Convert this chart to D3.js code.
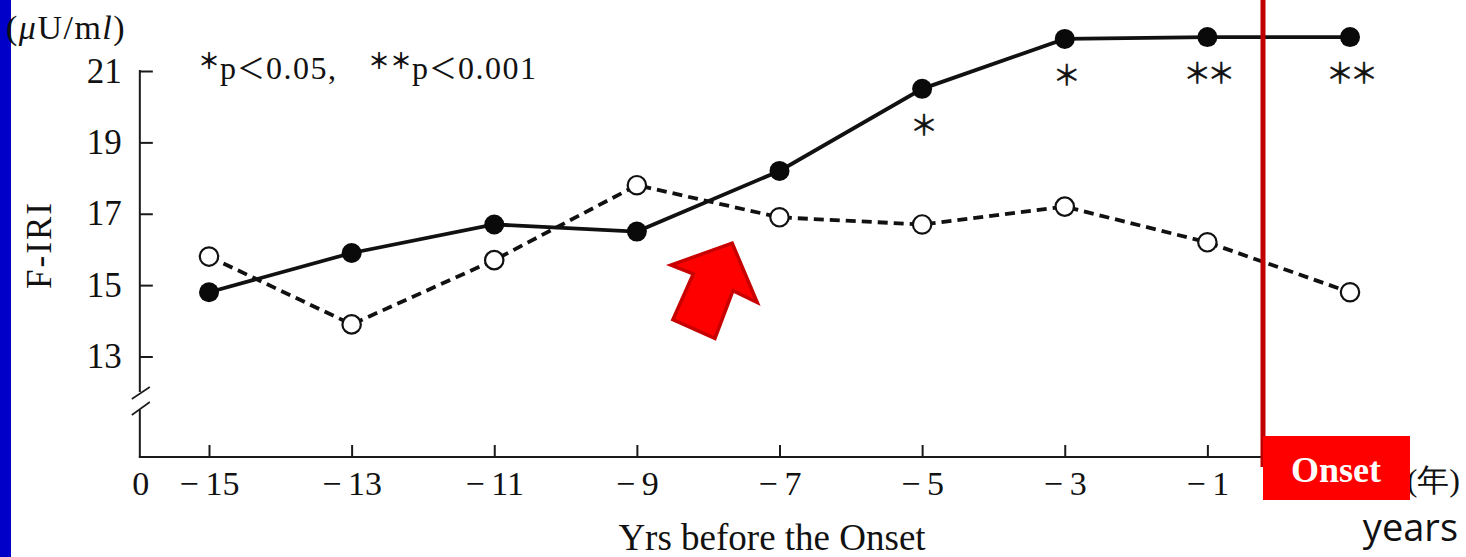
<!DOCTYPE html>
<html>
<head>
<meta charset="utf-8">
<script src="https://cdn.jsdelivr.net/npm/d3@7"></script>
<style>
  html, body { margin: 0; padding: 0; background: #ffffff; }
  svg { display: block; }
</style>
</head>
<body>
<svg id="chart" width="1466" height="557"></svg>
<script>
// Years relative to onset and the two F-IRI series (μU/ml)
const years = [-15, -13, -11, -9, -7, -5, -3, -1, 1];
const filledValues = [14.8, 15.9, 16.7, 16.5, 18.2, 20.5, 21.9, 21.95, 21.95];
const openValues = [15.8, 13.9, 15.7, 17.8, 16.9, 16.7, 17.2, 16.2, 14.8];
const significance = ["", "", "", "", "", "*", "*", "**", "**"];
const xTickValues = [-15, -13, -11, -9, -7, -5, -3, -1];
const yTickValues = [13, 15, 17, 19, 21];
const onsetYear = -0.22;

const serif = "'Liberation Serif', 'Times New Roman', serif";
const cjk = "'Noto Sans CJK JP', 'Noto Sans CJK SC', sans-serif";

const svg = d3.select("#chart");
svg.append("rect").attr("width", 1466).attr("height", 557).attr("fill", "#ffffff");

const x = d3.scaleLinear().domain([-15, 1]).range([209, 1350]);
const y = d3.scaleLinear().domain([13, 21]).range([356.5, 71]);

const axisX = x(-15.97);   // origin of the broken axis
const axisY = 457;

// slide-side blue strip
svg.append("rect").attr("x", 0).attr("y", 0).attr("width", 11).attr("height", 557).attr("fill", "#0000c8");

// ---- y axis (with break) ----
const yAxis = d3.axisLeft(y).tickValues(yTickValues).tickSizeInner(-13).tickSizeOuter(0).tickPadding(18)
  .tickFormat(d3.format("d"));
const gy = svg.append("g").attr("transform", `translate(${axisX},0)`).call(yAxis);
gy.select(".domain").remove();
gy.selectAll(".tick line").attr("stroke", "#1a1a1a").attr("stroke-width", 2);
gy.selectAll(".tick text").attr("font-family", serif).attr("font-size", 35).attr("fill", "#111");

const axisStroke = { stroke: "#1a1a1a", "stroke-width": 2, fill: "none" };
function styled(sel) { Object.entries(axisStroke).forEach(([k, v]) => sel.attr(k, v)); return sel; }
styled(svg.append("line").attr("x1", axisX).attr("x2", axisX).attr("y1", y(21) - 1).attr("y2", 392));
styled(svg.append("line").attr("x1", axisX).attr("x2", axisX).attr("y1", 410).attr("y2", axisY));
styled(svg.append("line").attr("x1", axisX - 8).attr("y1", 399).attr("x2", axisX + 10).attr("y2", 387)).attr("stroke-width", 1.6);
styled(svg.append("line").attr("x1", axisX - 8).attr("y1", 415).attr("x2", axisX + 10).attr("y2", 402)).attr("stroke-width", 1.6);

// ---- x axis ----
const xAxis = d3.axisBottom(x).tickValues(xTickValues).tickSizeInner(-12).tickSizeOuter(0).tickPadding(14)
  .tickFormat(d => "\u2212\u2009" + Math.abs(d));
const gx = svg.append("g").attr("transform", `translate(0,${axisY})`).call(xAxis);
gx.select(".domain").remove();
gx.selectAll(".tick line").attr("stroke", "#1a1a1a").attr("stroke-width", 2);
gx.selectAll(".tick text").attr("font-family", serif).attr("font-size", 34).attr("fill", "#111");
styled(svg.append("line").attr("x1", axisX - 1).attr("x2", x(onsetYear)).attr("y1", axisY).attr("y2", axisY));
svg.append("text").attr("x", axisX + 1).attr("y", 495).attr("text-anchor", "middle")
  .attr("font-family", serif).attr("font-size", 34).attr("fill", "#111").text("0");

// axis titles
svg.append("text").attr("x", 772).attr("y", 550).attr("text-anchor", "middle")
  .attr("font-family", serif).attr("font-size", 37).attr("fill", "#111").text("Yrs before the Onset");
svg.append("text").attr("transform", "translate(51,245) rotate(-90)").attr("text-anchor", "middle")
  .attr("font-family", serif).attr("font-size", 35).attr("letter-spacing", 2).attr("fill", "#111").text("F-IRI");
const unit = svg.append("text").attr("x", 6).attr("y", 39).attr("font-family", serif).attr("font-size", 34)
  .attr("letter-spacing", 1.5).attr("fill", "#111");
unit.append("tspan").text("(");
unit.append("tspan").attr("font-style", "italic").text("μ");
unit.append("tspan").text("U/m");
unit.append("tspan").attr("font-style", "italic").text("l");
unit.append("tspan").text(")");

// significance legend
function pNote(xPos, stars, threshold) {
  const t = svg.append("text").attr("x", xPos).attr("y", 79).attr("font-family", serif).attr("font-size", 32).attr("fill", "#111");
  t.append("tspan").attr("font-family", cjk).attr("font-weight", "bold").attr("font-size", 22).attr("dy", -10).text(stars.replace(/\*/g, "＊"));
  t.append("tspan").attr("dy", 10).text("p");
  t.append("tspan").attr("font-family", cjk).attr("font-size", 28).attr("dx", 1).text("＜");
  t.append("tspan").attr("dx", 1).attr("letter-spacing", 1.5).text(threshold);
}
pNote(198, "*", "0.05,");
pNote(368, "**", "0.001");

// ---- series ----
const pts = years.map((yr, i) => ({ yr, filled: filledValues[i], open: openValues[i], sig: significance[i] }));

svg.append("path").datum(pts)
  .attr("d", d3.line().x(d => x(d.yr)).y(d => y(d.open)))
  .attr("fill", "none").attr("stroke", "#111").attr("stroke-width", 3.8).attr("stroke-dasharray", "10,6");
svg.append("path").datum(pts)
  .attr("d", d3.line().x(d => x(d.yr)).y(d => y(d.filled)))
  .attr("fill", "none").attr("stroke", "#111").attr("stroke-width", 3.8);

svg.append("g").selectAll("circle").data(pts).join("circle")
  .attr("cx", d => x(d.yr)).attr("cy", d => y(d.open)).attr("r", 9.2)
  .attr("fill", "#fff").attr("stroke", "#111").attr("stroke-width", 2.2);
svg.append("g").selectAll("circle").data(pts).join("circle")
  .attr("cx", d => x(d.yr)).attr("cy", d => y(d.filled)).attr("r", 10)
  .attr("fill", "#0a0a0a");

svg.append("g").selectAll("text").data(pts.filter(d => d.sig)).join("text")
  .attr("x", d => x(d.yr)).attr("y", d => y(d.filled) + 47).attr("text-anchor", "middle")
  .attr("font-family", cjk).attr("font-size", 28).attr("letter-spacing", -4)
  .attr("fill", "#111").attr("stroke", "#111").attr("stroke-width", 0.5)
  .text(d => d.sig.replace(/\*/g, "＊"));

// ---- red arrow annotation ----
const arrowShape = [[0, 94], [47, 50], [20, 51], [23, 0], [-23, 0], [-23, 50], [-47, 49]];
svg.append("polygon")
  .attr("points", arrowShape.map(([u, v]) => `${u},${-v}`).join(" "))
  .attr("transform", `translate(${x(-8.2)},${y(13.77)}) rotate(24)`)
  .attr("fill", "#ff0000").attr("stroke", "#c80000").attr("stroke-width", 3.5).attr("stroke-linejoin", "miter");

// ---- onset marker ----
svg.append("text").attr("x", 1460).attr("y", 491).attr("text-anchor", "end")
  .attr("font-family", serif).attr("font-size", 32).attr("fill", "#111").text("(年)");
svg.append("line").attr("x1", x(onsetYear)).attr("x2", x(onsetYear)).attr("y1", 0).attr("y2", 467)
  .attr("stroke", "#c00000").attr("stroke-width", 5);
svg.append("rect").attr("x", x(onsetYear)).attr("y", 436).attr("width", 147).attr("height", 64).attr("fill", "#ff0000");
svg.append("text").attr("x", x(onsetYear) + 73).attr("y", 482).attr("text-anchor", "middle")
  .attr("font-family", serif).attr("font-weight", "bold").attr("font-size", 36).attr("fill", "#ffffff").text("Onset");
svg.append("text").attr("x", 1458).attr("y", 541).attr("text-anchor", "end")
  .attr("font-family", "'Open Sans', sans-serif").attr("font-size", 38).attr("fill", "#111").text("years");
</script>
</body>
</html>
